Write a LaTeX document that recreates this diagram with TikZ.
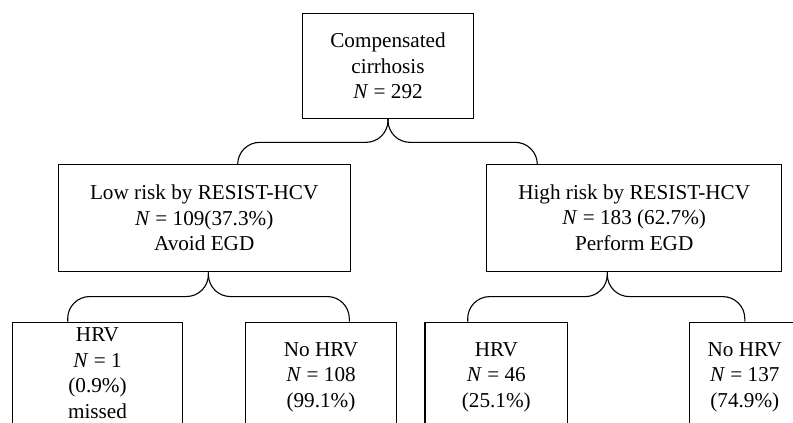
\documentclass[tikz,border=0pt]{standalone}
\usepackage{fontspec}
\setmainfont{Liberation Serif}
\begin{document}
\begin{tikzpicture}[x=1pt,y=-1pt,
  box/.style={draw, line width=1.1pt, rectangle, align=center, inner sep=0pt,
    font=\fontsize{21.2}{25.4}\selectfont},
  leaf/.style={box, anchor=north, minimum height=108pt},
  brace/.style={draw, line width=1.1pt, rounded corners=22pt}]
\useasboundingbox (0,0) rectangle (793,423);
\clip (0,0) rectangle (793,423);

% root
\node[box, minimum width=170.6pt, minimum height=105pt] (top) at (388,65.8)
  {Compensated\\cirrhosis\\\textit{N} = 292};

% risk groups
\node[box, minimum width=291.7pt, minimum height=107.4pt] (midL) at (204.2,218)
  {Low risk by RESIST-HCV\\\textit{N} = 109(37.3\%)\\Avoid EGD};
\node[box, minimum width=295pt, minimum height=106.7pt] (midR) at (634.2,217.7)
  {High risk by RESIST-HCV\\\textit{N} = 183 (62.7\%)\\Perform EGD};

% outcomes
\node[leaf, minimum width=170.4pt, minimum height=102pt] (bLL) at (97.5,321.7)
  {HRV\\\textit{N} = 1\\(0.9\%)\\missed};
\node[leaf, minimum width=151.4pt, minimum height=110pt] (bLR) at (321,321.7)
  {No HRV\\\textit{N} = 108\\(99.1\%)};
\node[leaf, minimum width=142.7pt, minimum height=110pt] (bRL) at (496.3,321.7)
  {HRV\\\textit{N} = 46\\(25.1\%)};
\node[leaf, minimum width=111pt, minimum height=110pt] (bRR) at (744.8,321.7)
  {No HRV\\\textit{N} = 137\\(74.9\%)};

% braces
\draw[brace] (top.south) -- ++(0,23.5) -| ([xshift=33.5pt]midL.north);
\draw[brace] (top.south) -- ++(0,23.5) -| ([xshift=-96.9pt]midR.north);

\draw[brace] ([xshift=4.2pt]midL.south) -- ++(0,24.3) -| ([xshift=-29.8pt]bLL.north);
\draw[brace] ([xshift=4.2pt]midL.south) -- ++(0,24.3) -| ([xshift=28.3pt]bLR.north);

\draw[brace] ([xshift=-26.9pt]midR.south) -- ++(0,25) -| ([xshift=-28.6pt]bRL.north);
\draw[brace] ([xshift=-26.9pt]midR.south) -- ++(0,25) -| (bRR.north);
\end{tikzpicture}
\end{document}
